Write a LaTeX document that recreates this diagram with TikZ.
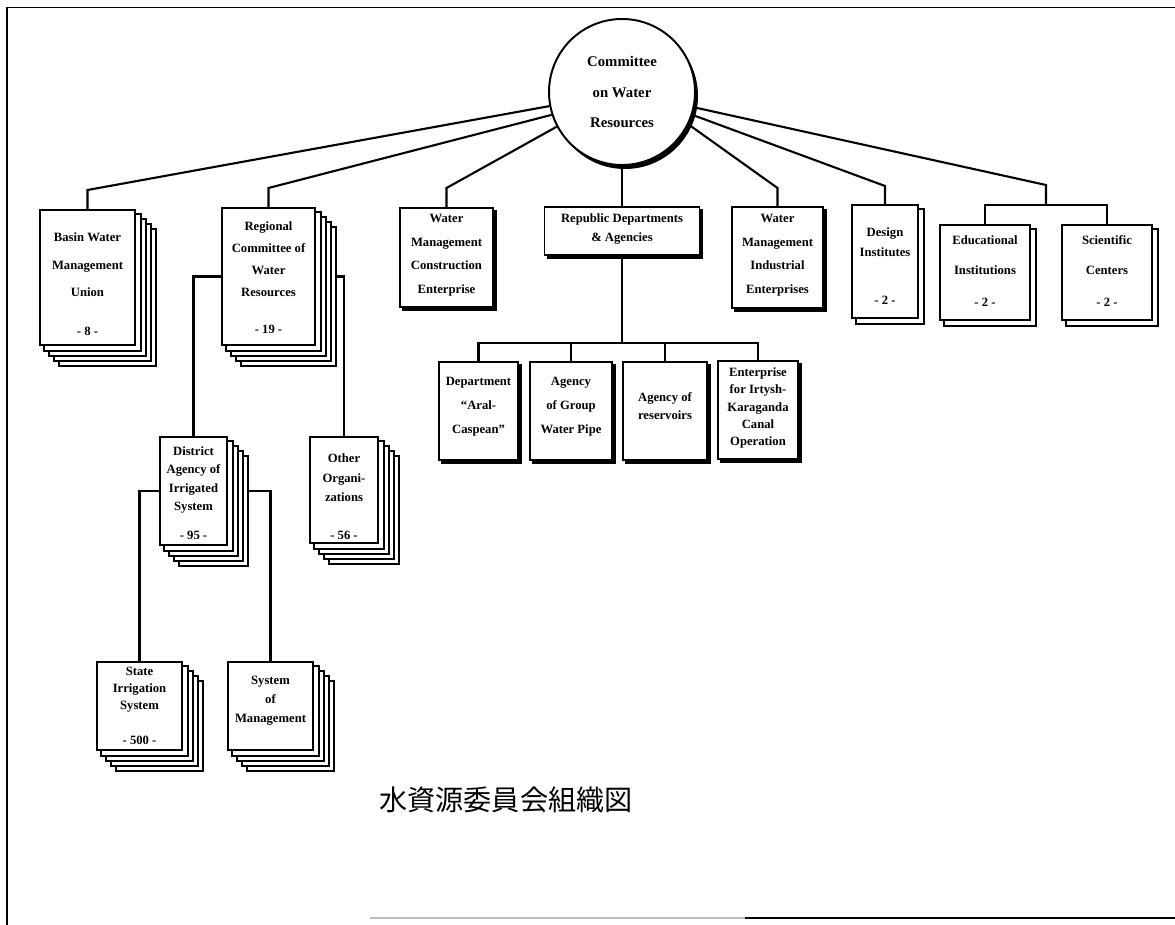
\documentclass[tikz,border=0pt]{standalone}
\usepackage{fontspec}
\setmainfont{Liberation Serif}
\newfontfamily\cjk{Noto Sans CJK JP}
\usetikzlibrary{backgrounds}
\newlength\pxu \setlength\pxu{0.025cm}
\tikzset{
  box/.style={draw, line width=1.4pt, fill=white, inner sep=0pt},
  lay/.style={draw, line width=1.0pt, fill=white},
  conn/.style={line width=1.5pt},
  txt/.style={align=center, inner sep=0pt},
  fs/.style={font=\bfseries\fontsize{9}{#1}\selectfont},
  frame/.style={line width=1.4pt}
}
\begin{document}
\begin{tikzpicture}[x=0.025cm, y=-0.025cm]
\useasboundingbox (0,0) rectangle (1175,925);
% frame
\draw[frame] (7,7) -- (7,925);
\draw[line width=0.7pt] (7,7) -- (1175,7);
\draw[line width=1pt, black!25] (370,918) -- (745,918);
\draw[line width=1pt] (745,918) -- (1175,918);

% main circle
\node[draw, circle, line width=1.4pt, fill=white, minimum size=146\pxu, inner sep=0pt, align=center, font=\bfseries\fontsize{10.5}{22}\selectfont] (cwr) at (622,92) {Committee\\on Water\\Resources};

% first level boxes
\node[box, minimum width=95\pxu, minimum height=135\pxu] (basin) at (87.5,277.5) {};
\node[box, minimum width=93\pxu, minimum height=137\pxu] (regional) at (268.5,276.5) {};
\node[box, minimum width=93\pxu, minimum height=99\pxu] (wmc) at (446.5,257.5) {};
\node[box, minimum width=155\pxu, minimum height=48\pxu] (rep) at (622,231) {};
\node[box, minimum width=91\pxu, minimum height=101\pxu] (wmi) at (777.5,257.5) {};
\node[box, minimum width=66\pxu, minimum height=113\pxu] (design) at (885,261.5) {};
\node[box, minimum width=90\pxu, minimum height=95\pxu] (edu) at (985,272.5) {};
\node[box, minimum width=90\pxu, minimum height=95\pxu] (sci) at (1107,272.5) {};

% second level
\node[box, minimum width=67\pxu, minimum height=108\pxu] (district) at (193.5,491) {};
\node[box, minimum width=68\pxu, minimum height=106\pxu] (other) at (344,490) {};
\node[box, minimum width=85\pxu, minimum height=88\pxu] (state) at (139.5,706) {};
\node[box, minimum width=85\pxu, minimum height=88\pxu] (system) at (270.5,706) {};
\node[box, minimum width=79\pxu, minimum height=98\pxu] (dept) at (478.5,411) {};
\node[box, minimum width=82\pxu, minimum height=98\pxu] (agroup) at (571,411) {};
\node[box, minimum width=84\pxu, minimum height=98\pxu] (ares) at (665,411) {};
\node[box, minimum width=80\pxu, minimum height=98\pxu] (ent) at (758,410) {};

% texts
\node[txt, fs=19.5] (basin-t) at (87.5,265) {Basin Water\\Management\\Union};
\node[txt, fs=12] (basin-n) at (87.5,331) {- 8 -};
\node[txt, fs=15.6] (regional-t) at (268.5,259) {Regional\\Committee of\\Water\\Resources};
\node[txt, fs=12] (regional-n) at (268.5,329) {- 19 -};
\node[txt, fs=16.7] (wmc-t) at (446.5,255) {Water\\Management\\Construction\\Enterprise};
\node[txt, fs=13.5] (rep-t) at (622,229) {Republic Departments\\\& Agencies};
\node[txt, fs=16.7] (wmi-t) at (777.5,255) {Water\\Management\\Industrial\\Enterprises};
\node[txt, fs=14] (design-t) at (885,242) {Design\\Institutes};
\node[txt, fs=12] (design-n) at (885,300) {- 2 -};
\node[txt, fs=21] (edu-t) at (985,255) {Educational\\Institutions};
\node[txt, fs=12] (edu-n) at (985,302) {- 2 -};
\node[txt, fs=21] (sci-t) at (1107,255) {Scientific\\Centers};
\node[txt, fs=12] (sci-n) at (1107,302) {- 2 -};
\node[txt, fs=13] (district-t) at (193.5,480) {District\\Agency of\\Irrigated\\System};
\node[txt, fs=12] (district-n) at (193.5,535) {- 95 -};
\node[txt, fs=13.9] (other-t) at (344,478) {Other\\Organi-\\zations};
\node[txt, fs=12] (other-n) at (344,535) {- 56 -};
\node[txt, fs=12] (state-t) at (139.5,690) {State\\Irrigation\\System};
\node[txt, fs=12] (state-n) at (139.5,740) {- 500 -};
\node[txt, fs=13.5] (system-t) at (270.5,701) {System\\of\\Management};
\node[txt, fs=17] (dept-t) at (478.5,407) {Department\\``Aral-\\Caspean''};
\node[txt, fs=17] (agroup-t) at (571,407) {Agency\\of Group\\Water Pipe};
\node[txt, fs=12.5] (ares-t) at (665,406) {Agency of\\reservoirs};
\node[txt, fs=12.4] (ent-t) at (758,408) {Enterprise\\for Irtysh-\\Karaganda\\Canal\\Operation};

% caption
\node[font=\cjk\fontsize{20}{20}\selectfont, inner sep=0pt] (cap) at (506,800) {水資源委員会組織図};

% helper coordinates
\coordinate (y190) at (0,190);
\coordinate (y188) at (0,188);
\coordinate (y186) at (0,186);
\coordinate (y343) at (0,343);
\coordinate (esk) at (1046,185);
\coordinate (esj) at (1046,205);

\begin{pgfonlayer}{background}
  % connectors
  \draw[conn] (cwr.191) -- (basin.north |- y190) -- (basin.north);
  \draw[conn] (cwr.198) -- (regional.north |- y188) -- (regional.north);
  \draw[conn] (cwr.208) -- (wmc.north |- y188) -- (wmc.north);
  \draw[conn] (cwr.south) -- (rep.north);
  \draw[conn] (cwr.-26) -- (wmi.north |- y188) -- (wmi.north);
  \draw[conn] (cwr.-18) -- (design.north |- y186) -- (design.north);
  \draw[conn] (cwr.-12) -- (esk) -- (esj);
  \draw[conn] (edu.north) |- (esj) -| (sci.north);
  \draw[conn] (regional.west) -| (district.north);
  \draw[conn] (regional.east) -| (other.north);
  \draw[conn] (district.west) -| (state.north);
  \draw[conn] (district.east) -| (system.north);
  \draw[conn] (rep.south) -- (rep.south |- y343);
  \draw[conn] (dept.north) |- (ent.north |- y343) -- (ent.north);
  \draw[conn] (agroup.north) -- (agroup.north |- y343);
  \draw[conn] (ares.north) -- (ares.north |- y343);
  % shadows
  \fill ([shift={(3,4)}]cwr.center) circle (73\pxu);
  \foreach \n in {wmc,rep,wmi,dept,agroup,ares,ent}
    \fill ([shift={(3,3)}]\n.south west) rectangle ([shift={(3,3)}]\n.north east);
  % stacks
  \foreach \n/\c in {basin/4,regional/4,district/4,other/4,state/4,system/4,design/1,edu/1,sci/1}{
    \foreach \k in {\c,...,1}
      \draw[lay] ([shift={(\k*5,\k*5)}]\n.south west) rectangle ([shift={(\k*5,\k*5)}]\n.north east);
  }
\end{pgfonlayer}
\end{tikzpicture}
\end{document}
